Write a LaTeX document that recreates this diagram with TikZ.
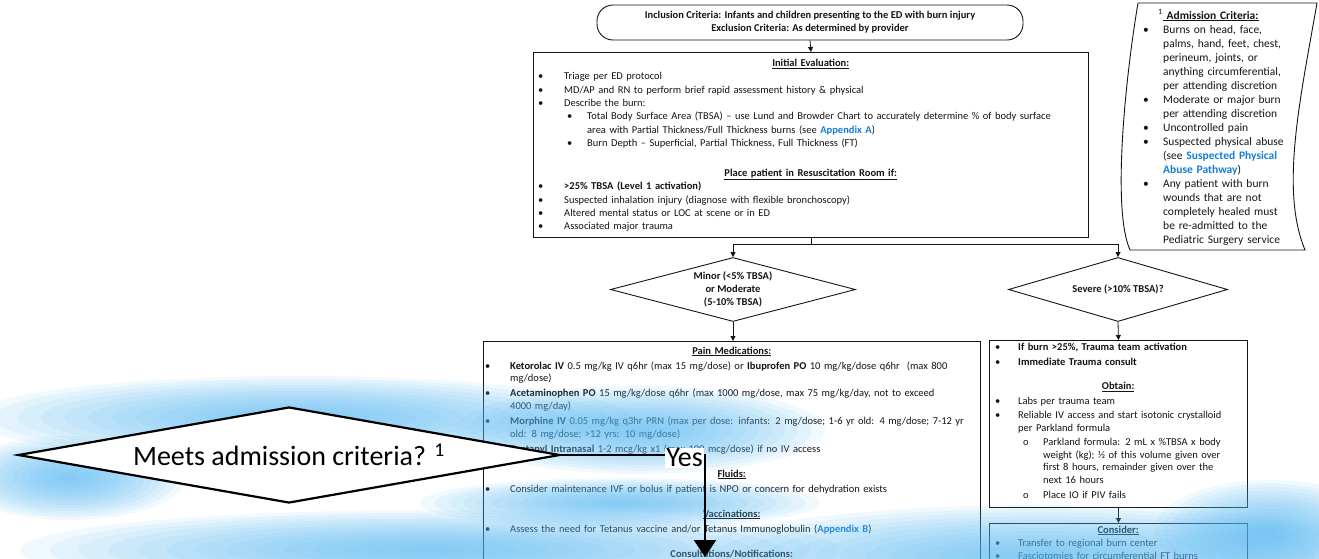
\documentclass[tikz,border=0pt]{standalone}
\usepackage{fontspec}
\setmainfont{Carlito}
\usetikzlibrary{shapes.geometric,arrows.meta}

\definecolor{ink}{RGB}{20,20,20}
\definecolor{linkblue}{RGB}{20,125,215}
\definecolor{streak}{RGB}{85,182,240}

\newcommand{\pathfont}{\fontsize{10.5}{13.3}\selectfont}
\newcommand{\admfont}{\fontsize{11.5}{14}\selectfont}
\newcommand{\bigfont}{\fontsize{28}{32}\selectfont}

% indents of the list lines, set in each box
\newlength{\bulx}\newlength{\itx}\newlength{\subbx}\newlength{\subx}\newlength{\headw}
\newcommand{\itm}[1]{\par\hangindent=\itx\hangafter=1\noindent\hbox to \itx{\hskip\bulx\textbullet\hfil}#1\par}
\newcommand{\subitm}[2][\textbullet]{\par\hangindent=\subx\hangafter=1\noindent\hbox to \subx{\hskip\subbx#1\hfil}#2\par}
\newcommand{\hdg}[1]{\par\noindent\hbox to \headw{\hfil\underline{\textbf{#1}}\hfil}\par}
\newcommand{\lnk}[1]{\textcolor{linkblue}{\textbf{#1}}}
% blurred blue brush stroke
\newcommand{\streak}[4]{\foreach \k in {1,...,14}{\fill[streak,fill opacity=0.085] (#1,#2) ellipse [x radius=#3*\k/14, y radius=#4*\k/14];}}

\begin{document}
\begin{tikzpicture}[x=1pt,y=-1pt,
    box/.style={draw=ink,line width=0.9pt,anchor=north west,inner sep=0pt},
    txt/.style={anchor=north west,inner sep=0pt,font=\pathfont,text=ink},
    dec/.style={draw=ink,line width=0.9pt,shape=diamond,inner sep=0pt,align=center,font=\pathfont\bfseries,text=ink},
    arr/.style={draw=ink,line width=0.8pt,-{Triangle[length=5pt,width=5pt]}},
    bigarr/.style={line width=2.2pt,-{Triangle[length=17pt,width=22pt]}}]
    \useasboundingbox (0,0) rectangle (1319,558);
    \clip (0,0) rectangle (1319,558);

    % top of the pathway
    \node[box,rounded corners=16pt,minimum width=426pt,minimum height=35pt,anchor=center,align=center,
        font=\fontsize{10.5}{13}\selectfont\bfseries,text=ink] (incl) at (810,22.5)
        {Inclusion Criteria: Infants and children presenting to the ED with burn injury\\
         Exclusion Criteria: As determined by provider};

    \node[box,minimum width=555pt,minimum height=185pt] (eval) at (533,52) {};
    \node[txt,text width=640pt] (evaltext) at ([yshift=-1pt]eval.north west) {%
        \setlength{\parskip}{0pt}\setlength{\bulx}{5pt}\setlength{\itx}{31pt}%
        \setlength{\subbx}{34pt}\setlength{\subx}{54pt}\setlength{\headw}{555pt}%
        \hdg{Initial Evaluation:}
        \itm{Triage per ED protocol}
        \itm{MD/AP and RN to perform brief rapid assessment history \& physical}
        \itm{Describe the burn:}
        \subitm{Total Body Surface Area (TBSA) – use Lund and Browder Chart to accurately determine \% of body surface\newline
            area with Partial Thickness/Full Thickness burns (see \lnk{Appendix A})}
        \subitm{Burn Depth – Superficial, Partial Thickness, Full Thickness (FT)}
        \vspace{17pt}
        \hdg{Place patient in Resuscitation Room if:}
        \itm{\textbf{>25\% TBSA (Level 1 activation)}}
        \itm{Suspected inhalation injury (diagnose with flexible bronchoscopy)}
        \itm{Altered mental status or LOC at scene or in ED}
        \itm{Associated major trauma}};

    % admission criteria, side note
    \draw[draw=ink,line width=0.9pt] (1138,3) -- (1317,3) .. controls (1300,100) and (1280,190) .. (1305,250)
        -- (1130,250) .. controls (1112,210) and (1125,80) .. (1138,3) -- cycle;
    \node[txt,text width=200pt,font=\admfont] (admit) at (1143,5) {%
        \setlength{\parskip}{0pt}\setlength{\bulx}{0pt}\setlength{\itx}{20pt}%
        \par\noindent\hskip15pt\textsuperscript{1}\underline{\textbf{~Admission Criteria:}}\par
        \itm{Burns on head, face,\newline palms, hand, feet, chest,\newline perineum, joints, or\newline
            anything circumferential,\newline per attending discretion}
        \itm{Moderate or major burn\newline per attending discretion}
        \itm{Uncontrolled pain}
        \itm{Suspected physical abuse\newline (see \lnk{Suspected Physical}\newline \lnk{Abuse Pathway})}
        \itm{Any patient with burn\newline wounds that are not\newline completely healed must\newline
            be re-admitted to the\newline Pediatric Surgery service}};

    % two branches
    \node[dec,minimum width=245pt,minimum height=64pt,shape aspect=3.83] (minor) at (733,289.5)
        {Minor (<5\% TBSA)\\or Moderate\\(5-10\% TBSA)};
    \node[dec,minimum width=219pt,minimum height=64pt,shape aspect=3.4] (severe) at (1118,289.5)
        {Severe (>10\% TBSA)?};

    \node[box,minimum width=497pt,minimum height=260pt] (pain) at (483,341) {};
    \node[txt,text width=640pt] (paintext) at ([yshift=2pt]pain.north west) {%
        \fontsize{10.5}{12.6}\selectfont\setlength{\parskip}{2.4pt}%
        \setlength{\bulx}{2pt}\setlength{\itx}{27pt}\setlength{\headw}{497pt}%
        \hdg{Pain Medications:}
        \itm{\textbf{Ketorolac IV} 0.5 mg/kg IV q6hr (max 15 mg/dose) or \textbf{Ibuprofen PO} 10 mg/kg/dose q6hr~ (max 800\newline mg/dose)}
        \itm{\textbf{Acetaminophen PO} 15 mg/kg/dose q6hr (max 1000 mg/dose, max 75 mg/kg/day, not to exceed\newline 4000 mg/day)}
        \itm{\textbf{Morphine IV} 0.05 mg/kg q3hr PRN (max per dose: infants: 2 mg/dose; 1-6 yr old: 4 mg/dose; 7-12 yr\newline old: 8 mg/dose; >12 yrs: 10 mg/dose)}
        \itm{\textbf{Fentanyl Intranasal} 1-2 mcg/kg x1 (max 100 mcg/dose) if no IV access}
        \vspace{10pt}
        \hdg{Fluids:}
        \itm{Consider maintenance IVF or bolus if patient is NPO or concern for dehydration exists}
        \vspace{10pt}
        \hdg{Vaccinations:}
        \itm{Assess the need for Tetanus vaccine and/or Tetanus Immunoglobulin (\lnk{Appendix B})}
        \vspace{10pt}
        \hdg{Consultations/Notifications:}};

    \node[box,minimum width=258pt,minimum height=167pt] (trauma) at (989,340) {};
    \node[txt,text width=400pt] (traumatext) at ([yshift=4pt]trauma.north west) {%
        \fontsize{10.5}{12.5}\selectfont\setlength{\parskip}{2.2pt}%
        \setlength{\bulx}{6pt}\setlength{\itx}{29pt}\setlength{\subbx}{34pt}\setlength{\subx}{54pt}\setlength{\headw}{258pt}%
        \itm{\textbf{If burn >25\%, Trauma team activation}}
        \itm{\textbf{Immediate Trauma consult}}
        \vspace{9pt}
        \hdg{Obtain:}
        \itm{Labs per trauma team}
        \itm{Reliable IV access and start isotonic crystalloid\newline per Parkland formula}
        \subitm[o]{Parkland formula: 2 mL x \%TBSA x body\newline weight (kg); ½ of this volume given over\newline
            first 8 hours, remainder given over the\newline next 16 hours}
        \subitm[o]{Place IO if PIV fails}};

    \node[box,minimum width=258pt,minimum height=60pt] (consider) at (989,523) {};
    \node[txt,text width=400pt] (considertext) at ([yshift=3pt]consider.north west) {%
        \fontsize{10.5}{13}\selectfont\setlength{\parskip}{0pt}%
        \setlength{\bulx}{6pt}\setlength{\itx}{29pt}\setlength{\headw}{258pt}%
        \hdg{Consider:}
        \itm{Transfer to regional burn center}
        \itm{Fasciotomies for circumferential FT burns}};

    % connectors
    \draw[arr] (incl.south) -- (eval.north);
    \draw[draw=ink,line width=0.8pt] (eval.south) -- ++(0,6) coordinate (split);
    \draw[arr] (split) -| (minor.north);
    \draw[arr] (split) -| (severe.north);
    \draw[arr] (minor.south) -- (minor.south |- pain.north);
    \draw[arr] (severe.south) -- (trauma.north);
    \draw[arr] (trauma.south) -- (consider.north);

    % blue brush strokes
    \streak{300}{418}{330}{42}
    \streak{640}{430}{185}{44}
    \streak{70}{478}{115}{42}
    \streak{430}{550}{410}{40}
    \streak{620}{503}{200}{25}
    \streak{1040}{557}{350}{52}
    \streak{1270}{530}{115}{50}

    % question laid over the pathway
    \node[draw=black,fill=white,line width=2.2pt,shape=diamond,inner sep=0pt,minimum width=542pt,
        minimum height=96pt,shape aspect=5.65,font=\bigfont] (meets) at (289,455)
        {Meets admission criteria? \textsuperscript{1}};
    \coordinate (yescorner) at (705,455);
    \coordinate (yesend) at (705,557);
    \draw[bigarr] (meets.east) -- (yescorner) -- (yesend);
    \node[fill=white,inner sep=1pt,font=\bigfont,anchor=east] (yes) at (704,458) {Yes};
\end{tikzpicture}
\end{document}
